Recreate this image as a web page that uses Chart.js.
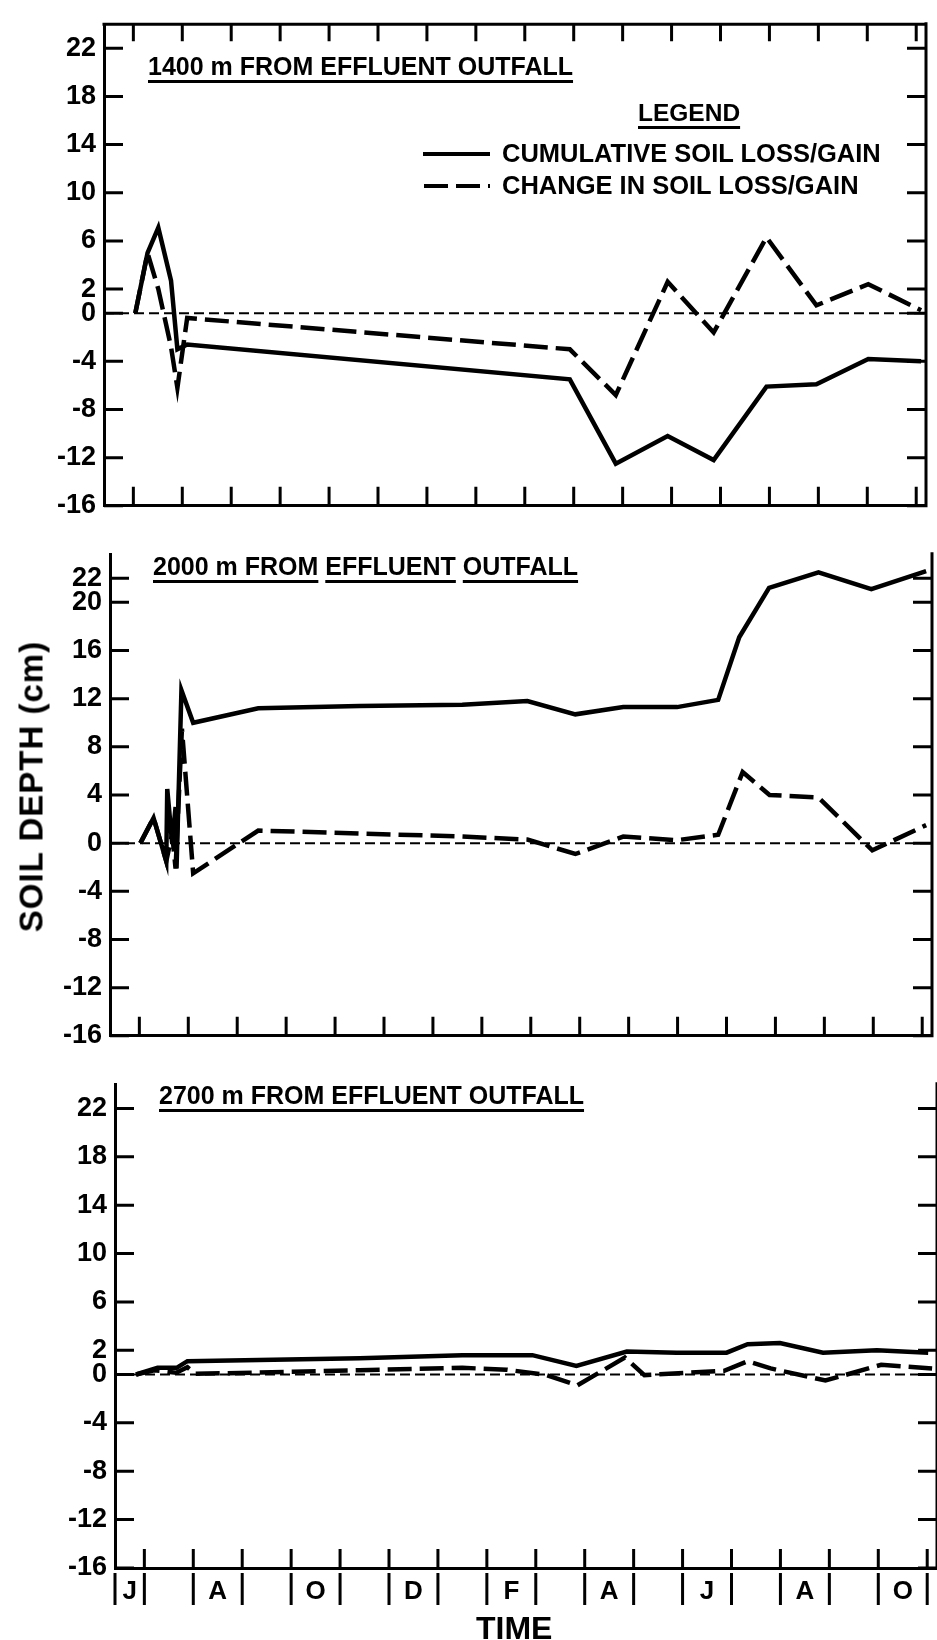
<!DOCTYPE html>
<html>
<head>
<meta charset="utf-8">
<script src="https://cdn.jsdelivr.net/npm/chart.js@4.4.1/dist/chart.umd.min.js"></script>
<style>
  html, body { margin: 0; padding: 0; background: #fff; }
  #page { position: relative; width: 937px; height: 1640px; overflow: hidden; background: #fff;
          font-family: "Liberation Sans", Arial, sans-serif; color: #000; font-weight: bold; }
  canvas { position: absolute; left: 0; }
  .txt { position: absolute; white-space: nowrap; line-height: 1; }
  .ul { text-decoration: underline; text-decoration-thickness: 2.5px; text-underline-offset: 5px; }
</style>
</head>
<body>
<div id="page">
  <canvas id="c1" width="937" height="530" style="top:0px"></canvas>
  <canvas id="c2" width="937" height="530" style="top:530px"></canvas>
  <canvas id="c3" width="937" height="580" style="top:1060px"></canvas>

  <div class="txt ul" id="t1" style="left:148px;top:54px;font-size:25px;">1400 m FROM EFFLUENT OUTFALL</div>
  <div class="txt" id="t2" style="left:153px;top:554px;font-size:25px;"><span class="ul">2000 m FROM</span> <span class="ul">EFFLUENT</span> <span class="ul">OUTFALL</span></div>
  <div class="txt ul" id="t3" style="left:159px;top:1083px;font-size:25px;">2700 m FROM EFFLUENT OUTFALL</div>

  <div class="txt ul" style="left:638px;top:101px;font-size:24.5px;">LEGEND</div>
  <svg style="position:absolute;left:420px;top:146px" width="75" height="50">
    <line x1="3" y1="8" x2="70" y2="8" stroke="#000" stroke-width="4"/>
    <line x1="4" y1="40" x2="70" y2="40" stroke="#000" stroke-width="4" stroke-dasharray="24 8"/>
  </svg>
  <div class="txt" style="left:502px;top:141px;font-size:25.5px;">CUMULATIVE SOIL LOSS/GAIN</div>
  <div class="txt" style="left:502px;top:173px;font-size:25.5px;">CHANGE IN SOIL LOSS/GAIN</div>

  <div class="txt" style="left:-119px;top:770px;width:300px;text-align:center;font-size:33px;letter-spacing:1px;transform:rotate(-90deg);">SOIL DEPTH (cm)</div>
  <div class="txt" style="left:476px;top:1612px;font-size:32px;">TIME</div>
</div>

<script>
// ---------- axis ranges / tick values ----------
const X_MIN = -0.6;
const X_MAX = 16.2;
const Y_MIN = -16;
const Y_MAX = 24;
const Y_TICKS_A = [22, 18, 14, 10, 6, 2, 0, -4, -8, -12, -16];
const Y_TICKS_B = [22, 20, 16, 12, 8, 4, 0, -4, -8, -12, -16];
const MONTH_TICKS = [0, 1, 2, 3, 4, 5, 6, 7, 8, 9, 10, 11, 12, 13, 14, 15, 16];
const MONTH_LABEL_POS = [-0.3, 1.5, 3.5, 5.5, 7.5, 9.5, 11.5, 13.5, 15.5];
const MONTH_LABELS = ['J', 'A', 'O', 'D', 'F', 'A', 'J', 'A', 'O'];
const MONTH_BARS = [X_MIN, 0, 1, 2, 3, 4, 5, 6, 7, 8, 9, 10, 11, 12, 13, 14, 15, 16];

// ---------- 1400 m ----------
const X1 = [0.04, 0.29, 0.51, 0.77, 0.9, 1.1, 8.92, 9.86, 10.92, 11.86, 12.94, 13.96, 15.02, 16.1];
const CUM1 = [0, 5.0, 7.1, 2.7, -3.0, -2.6, -5.5, -12.5, -10.2, -12.2, -6.1, -5.9, -3.8, -4.0];
const CHG1 = [0, 5.0, 2.0, -2.8, -6.2, -0.4, -3.0, -6.8, 2.6, -1.6, 6.3, 0.65, 2.4, 0.25];

// ---------- 2000 m ----------
const X2_CUM = [0.02, 0.29, 0.55, 0.57, 0.67, 0.74, 0.76, 0.86, 1.1, 2.43, 4.5, 6.6, 7.93, 8.91, 9.89, 10.99, 11.83, 12.26, 12.87, 13.88, 14.96, 16.08];
const CUM2 = [0, 2.1, -1.5, 4.5, 0, 3.0, -2.1, 12.7, 10.0, 11.2, 11.4, 11.5, 11.8, 10.7, 11.3, 11.3, 11.9, 17.1, 21.2, 22.5, 21.1, 22.6];
const X2_CHG = [0.02, 0.29, 0.55, 0.67, 0.74, 0.87, 1.1, 2.43, 4.5, 6.6, 7.93, 8.91, 9.89, 10.99, 11.83, 12.33, 12.88, 13.88, 14.98, 16.08];
const CHG2 = [0, 2.1, -1.5, 0.8, -2.1, 9.5, -2.5, 1.05, 0.8, 0.55, 0.3, -0.9, 0.55, 0.25, 0.7, 5.9, 4.0, 3.8, -0.6, 1.5];

// ---------- 2700 m ----------
const X3_CUM = [-0.17, 0.27, 0.66, 0.88, 4.4, 6.5, 7.93, 8.83, 9.86, 10.88, 11.9, 12.33, 12.99, 13.87, 14.97, 16.02];
const CUM3 = [0, 0.55, 0.55, 1.1, 1.35, 1.6, 1.6, 0.7, 1.9, 1.8, 1.8, 2.5, 2.6, 1.8, 2.0, 1.8];
const X3_CHG = [-0.17, 0.2, 0.65, 0.88, 1.04, 4.4, 6.5, 7.4, 8.22, 8.85, 9.82, 10.22, 11.85, 12.33, 12.8, 13.92, 15.06, 16.1];
const CHG3 = [0, 0.35, 0.15, 0.6, 0.05, 0.35, 0.55, 0.4, -0.05, -0.9, 1.4, -0.05, 0.3, 1.1, 0.5, -0.5, 0.8, 0.5];

const INK = '#000';
const FONT = '"Liberation Sans", Arial, sans-serif';

const pts = (xs, ys) => xs.map((x, i) => ({ x, y: ys[i] }));

const framePlugin = {
  id: 'frame',
  afterDraw(chart, args, o) {
    const { ctx, chartArea: a, scales: { x, y } } = chart;
    ctx.save();
    ctx.strokeStyle = INK;
    ctx.lineWidth = 3;
    ctx.beginPath();
    // right and top borders
    ctx.moveTo(a.right, a.top - 2); ctx.lineTo(a.right, a.bottom + 1.5);
    if (o.top) { ctx.moveTo(a.left - 1.5, a.top); ctx.lineTo(a.right + 1.5, a.top); }
    for (const v of o.yTicks) {
      const py = y.getPixelForValue(v);
      ctx.moveTo(a.left, py); ctx.lineTo(a.left + o.len, py);
      ctx.moveTo(a.right, py); ctx.lineTo(a.right - o.len, py);
    }
    for (const v of o.xTicks) {
      const px = x.getPixelForValue(v);
      ctx.moveTo(px, a.bottom); ctx.lineTo(px, a.bottom - o.len);
      if (o.top) { ctx.moveTo(px, a.top); ctx.lineTo(px, a.top + o.len - 2); }
    }
    if (o.bars) {
      for (const v of o.bars) {
        const px = x.getPixelForValue(v);
        ctx.moveTo(px, a.bottom + 5); ctx.lineTo(px, a.bottom + 37);
      }
    }
    ctx.stroke();
    ctx.restore();
  }
};

function makePanel(id, cfg) {
  const ds = [
    { data: [{ x: X_MIN, y: 0 }, { x: X_MAX, y: 0 }], borderColor: INK, borderWidth: 2, borderDash: [10, 5] },
    { data: pts(cfg.xc, cfg.cum), borderColor: INK, borderWidth: 4.5 },
    { data: pts(cfg.xd, cfg.chg), borderColor: INK, borderWidth: 4.5, borderDash: [24, 8] }
  ];
  return new Chart(document.getElementById(id), {
    type: 'line',
    data: { datasets: ds.map(d => Object.assign({ pointRadius: 0, tension: 0, fill: false, clip: false }, d)) },
    plugins: [framePlugin],
    options: {
      responsive: false, animation: false, devicePixelRatio: 1,
      layout: { padding: { top: cfg.padTop, right: 937 - cfg.plotRight, left: 0, bottom: 0 } },
      plugins: {
        legend: { display: false }, tooltip: { enabled: false },
        frame: { yTicks: cfg.yTicks, xTicks: MONTH_TICKS, len: 19, top: cfg.top, bars: cfg.bars }
      },
      scales: {
        x: {
          type: 'linear', min: X_MIN, max: X_MAX, position: 'bottom',
          grid: { display: false, drawTicks: false },
          border: { display: true, color: INK, width: 3 },
          afterBuildTicks: s => { s.ticks = (cfg.monthLabels ? MONTH_LABEL_POS : []).map(v => ({ value: v })); },
          ticks: {
            display: !!cfg.monthLabels, autoSkip: false, maxRotation: 0, color: INK, padding: 8,
            font: { family: FONT, size: 26, weight: 'bold' },
            callback: (v, i) => MONTH_LABELS[i]
          },
          afterFit: s => { s.height = cfg.axisH; }
        },
        y: {
          type: 'linear', min: Y_MIN, max: Y_MAX,
          grid: { display: false, drawTicks: false },
          border: { display: true, color: INK, width: 3 },
          afterBuildTicks: s => { s.ticks = cfg.yTicks.map(v => ({ value: v })); },
          ticks: { autoSkip: false, color: INK, padding: 8, font: { family: FONT, size: 27, weight: 'bold' }, callback: v => String(v) },
          afterFit: s => { s.width = cfg.plotLeft; }
        }
      }
    }
  });
}

makePanel('c1', { xc: X1, cum: CUM1, xd: X1, chg: CHG1, yTicks: Y_TICKS_A, plotLeft: 104, plotRight: 926, padTop: 12, axisH: 21, top: true });
makePanel('c2', { xc: X2_CUM, cum: CUM2, xd: X2_CHG, chg: CHG2, yTicks: Y_TICKS_B, plotLeft: 110, plotRight: 932, padTop: 14, axisH: 19 });
makePanel('c3', { xc: X3_CUM, cum: CUM3, xd: X3_CHG, chg: CHG3, yTicks: Y_TICKS_A, plotLeft: 115, plotRight: 937, padTop: 11, axisH: 72, bars: MONTH_BARS, monthLabels: true });
</script>
</body>
</html>
